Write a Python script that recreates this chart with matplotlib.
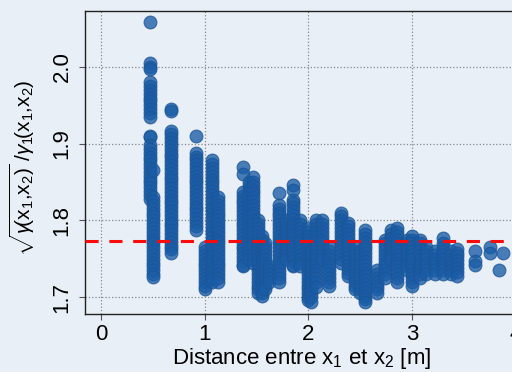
import numpy as np
import matplotlib
matplotlib.use("Agg")
import matplotlib.pyplot as plt

# distances (m) of each column of points and the ratios
dist = [0.47, 0.50, 0.68, 0.92, 1.00, 1.07, 1.13,
        1.37, 1.43, 1.47, 1.52, 1.55, 1.58, 1.62,
        1.72, 1.79, 1.85, 1.92, 2.00, 2.03, 2.07, 2.13, 2.20,
        2.32, 2.38, 2.45, 2.50, 2.55, 2.66, 2.74, 2.80, 2.86,
        2.95, 3.00, 3.08, 3.14, 3.22, 3.30, 3.38, 3.44,
        3.61, 3.75, 3.84, 3.88]

ratio = [
    [2.059, 2.005, 2.0, 1.997, 1.98, 1.975, 1.97, 1.965, 1.96, 1.955, 1.95, 1.945,
     1.94, 1.935, 1.91, 1.908, 1.898, 1.893, 1.888, 1.883, 1.878, 1.873, 1.868,
     1.863, 1.858, 1.853, 1.848, 1.843, 1.838, 1.833, 1.828],
    [1.865, 1.83, 1.825, 1.82, 1.815, 1.81, 1.805, 1.80, 1.795, 1.79, 1.785, 1.78,
     1.775, 1.77, 1.765, 1.76, 1.755, 1.75, 1.745, 1.74, 1.735, 1.73, 1.726],
    [1.945, 1.942, 1.917, 1.912, 1.907, 1.902, 1.897, 1.892, 1.887, 1.882, 1.877,
     1.872, 1.867, 1.862, 1.857, 1.852, 1.847, 1.842, 1.837, 1.832, 1.827, 1.822,
     1.817, 1.812, 1.807, 1.802, 1.797, 1.792, 1.787, 1.782, 1.777, 1.772, 1.767,
     1.762, 1.757],
    [1.91, 1.888, 1.883, 1.878, 1.873, 1.868, 1.863, 1.858, 1.853, 1.848, 1.843,
     1.838, 1.833, 1.828, 1.823, 1.818, 1.813, 1.808, 1.803, 1.798, 1.793, 1.788],
    [1.765, 1.76, 1.755, 1.75, 1.745, 1.74, 1.735, 1.73, 1.725, 1.72, 1.715, 1.71],
    [1.878, 1.873, 1.868, 1.863, 1.858, 1.853, 1.848, 1.843, 1.838, 1.833, 1.828,
     1.823, 1.818, 1.813, 1.808, 1.803, 1.798, 1.793, 1.788, 1.783, 1.778, 1.773,
     1.768, 1.763, 1.758, 1.753, 1.748, 1.743, 1.738, 1.733, 1.728, 1.723, 1.72],
    [1.83, 1.825, 1.82, 1.815, 1.81, 1.805, 1.80, 1.795, 1.79, 1.785, 1.78, 1.775,
     1.77, 1.765, 1.76, 1.755, 1.75, 1.745, 1.74, 1.735, 1.73, 1.725, 1.72],
    [1.87, 1.86, 1.837, 1.832, 1.827, 1.822, 1.817, 1.812, 1.807, 1.802, 1.797,
     1.792, 1.787, 1.782, 1.777, 1.772, 1.767, 1.762, 1.757, 1.752, 1.747, 1.742, 1.74],
    [1.85, 1.845, 1.84, 1.835, 1.83, 1.825, 1.82, 1.815, 1.81, 1.805, 1.80, 1.795,
     1.79, 1.785, 1.78, 1.775, 1.77, 1.765, 1.76, 1.755, 1.75],
    [1.856, 1.85, 1.845, 1.84, 1.835, 1.83, 1.825, 1.82, 1.815, 1.81, 1.805, 1.80,
     1.795, 1.79, 1.785, 1.78, 1.775, 1.77, 1.765, 1.76, 1.755, 1.75, 1.745],
    [1.80, 1.795, 1.79, 1.785, 1.78, 1.775, 1.77, 1.765, 1.76, 1.755, 1.75, 1.745,
     1.74, 1.735, 1.73, 1.725, 1.72, 1.715, 1.71, 1.705],
    [1.78, 1.775, 1.77, 1.765, 1.76, 1.755, 1.75, 1.745, 1.74, 1.735, 1.73, 1.725,
     1.72, 1.715, 1.71, 1.705, 1.702],
    [1.77, 1.765, 1.76, 1.755, 1.75, 1.745, 1.74, 1.735, 1.73, 1.725, 1.72, 1.715, 1.71],
    [1.74, 1.735, 1.73, 1.725, 1.72],
    [1.836, 1.82, 1.815, 1.81, 1.805, 1.80, 1.795, 1.79, 1.785, 1.78, 1.775, 1.77,
     1.765, 1.76, 1.755, 1.75, 1.745, 1.74, 1.735, 1.73, 1.725, 1.72],
    [1.80, 1.795, 1.79, 1.785, 1.78, 1.775, 1.77, 1.765, 1.76, 1.755, 1.75],
    [1.846, 1.84, 1.827, 1.822, 1.817, 1.812, 1.807, 1.802, 1.797, 1.792, 1.787,
     1.782, 1.777, 1.772, 1.767, 1.762, 1.757, 1.752, 1.747, 1.742, 1.74],
    [1.80, 1.795, 1.79, 1.785, 1.78, 1.775, 1.77, 1.765, 1.76, 1.755, 1.75, 1.745, 1.74],
    [1.79, 1.785, 1.78, 1.775, 1.77, 1.765, 1.76, 1.755, 1.75, 1.745, 1.74, 1.735,
     1.73, 1.725, 1.72, 1.715, 1.71, 1.705, 1.70, 1.696],
    [1.76, 1.755, 1.75, 1.745, 1.74, 1.735, 1.73, 1.725, 1.72, 1.715, 1.71, 1.705,
     1.70, 1.694],
    [1.80, 1.795, 1.79, 1.785, 1.78, 1.775, 1.77, 1.765, 1.76, 1.755, 1.75, 1.745,
     1.74, 1.735, 1.73, 1.725, 1.72, 1.713],
    [1.80, 1.795, 1.79, 1.785, 1.78, 1.775, 1.77, 1.765, 1.76, 1.755, 1.75],
    [1.765, 1.76, 1.755, 1.75, 1.745, 1.74, 1.735, 1.73, 1.725, 1.72, 1.715],
    [1.81, 1.805, 1.80, 1.795, 1.79, 1.785, 1.78, 1.775, 1.77, 1.765, 1.76, 1.755,
     1.75, 1.745],
    [1.797, 1.792, 1.787, 1.782, 1.777, 1.772, 1.767, 1.762, 1.757, 1.752, 1.747,
     1.742, 1.737, 1.732, 1.727],
    [1.765, 1.76, 1.755, 1.75, 1.745, 1.74, 1.735, 1.73, 1.725, 1.72, 1.715, 1.71],
    [1.76, 1.755, 1.75, 1.745, 1.74, 1.735, 1.73, 1.725, 1.72, 1.715, 1.71, 1.705],
    [1.787, 1.782, 1.777, 1.772, 1.767, 1.762, 1.757, 1.752, 1.747, 1.742, 1.737,
     1.732, 1.727, 1.722, 1.717, 1.712, 1.707, 1.702, 1.697, 1.693],
    [1.735, 1.73, 1.725, 1.72, 1.715, 1.71, 1.705],
    [1.775, 1.77, 1.765, 1.76, 1.755, 1.75, 1.745, 1.74, 1.735, 1.73, 1.725],
    [1.787, 1.782, 1.777, 1.772, 1.767, 1.762, 1.757, 1.752, 1.748],
    [1.79, 1.785, 1.78, 1.775, 1.77, 1.765, 1.76, 1.755, 1.75, 1.745, 1.74, 1.735,
     1.73, 1.725, 1.72],
    [1.775, 1.77, 1.765, 1.76, 1.755, 1.75, 1.745, 1.74, 1.735],
    [1.78, 1.775, 1.77, 1.765, 1.76, 1.755, 1.75, 1.745, 1.74, 1.735, 1.73, 1.725,
     1.72, 1.715],
    [1.775, 1.77, 1.765, 1.76, 1.755, 1.75, 1.745, 1.74, 1.735, 1.73, 1.725],
    [1.765, 1.76, 1.755, 1.75, 1.745, 1.74, 1.735, 1.73],
    [1.76, 1.755, 1.75, 1.745, 1.74, 1.735, 1.73],
    [1.777, 1.77, 1.765, 1.76, 1.755, 1.75, 1.745, 1.74, 1.735, 1.73],
    [1.76, 1.755, 1.75, 1.745, 1.74, 1.735, 1.73],
    [1.763, 1.758, 1.753, 1.748, 1.743, 1.738, 1.733, 1.727],
    [1.76, 1.747, 1.742],
    [1.765, 1.758],
    [1.735],
    [1.757],
]

ref_level = 1.773

plt.rcParams['font.family'] = ['Liberation Sans', 'DejaVu Sans']
plt.rcParams['mathtext.fontset'] = 'custom'
plt.rcParams['mathtext.rm'] = 'Liberation Sans'
plt.rcParams['mathtext.it'] = 'Liberation Sans:italic'

bg = '#e8eff7'
fig = plt.figure(figsize=(5.12, 3.72), dpi=100, facecolor=bg)
ax = fig.add_axes([0.166, 0.156, 0.848, 0.815])
ax.set_facecolor(bg)

xs = np.concatenate([[d] * len(r) for d, r in zip(dist, ratio)])
ys = np.concatenate(ratio)
ax.scatter(xs, ys, s=85, color='#1a5ca6', alpha=0.78,
           edgecolors='#1a5597', linewidths=0.8, zorder=3)

ax.axhline(ref_level, color='#ff0a0a', lw=2.2, dashes=(4.3, 3.5), zorder=4)

ax.set_xlim(-0.154, 4.035)
ax.set_ylim(1.678, 2.073)
ax.set_xticks([0, 1, 2, 3, 4])
ax.set_yticks([1.7, 1.8, 1.9, 2.0])
ax.set_yticklabels(['1.7', '1.8', '1.9', '2.0'], rotation=90, va='center')
ax.tick_params(labelsize=16, length=4, color='#555555')
ax.tick_params(axis='x', pad=3)
ax.tick_params(axis='y', pad=5)
ax.grid(True, linestyle=':', color='#888888', lw=0.9, zorder=0)

for s in ['left', 'bottom', 'top']:
    ax.spines[s].set_color('#222222')
    ax.spines[s].set_linewidth(1.0)
ax.spines['right'].set_visible(False)

ax.set_xlabel(r'Distance entre x$_1$ et x$_2$ [m]', fontsize=16, labelpad=1)
ax.set_ylabel(r'$\sqrt{\gamma\!(\mathrm{x}_1{,}\mathrm{x}_2)}\;/\gamma_1\!(\mathrm{x}_1{,}\mathrm{x}_2)$',
              fontsize=15, va='center')
ax.yaxis.set_label_coords(-0.145, 0.482)

fig.savefig('out.png', dpi=100, facecolor=bg)
